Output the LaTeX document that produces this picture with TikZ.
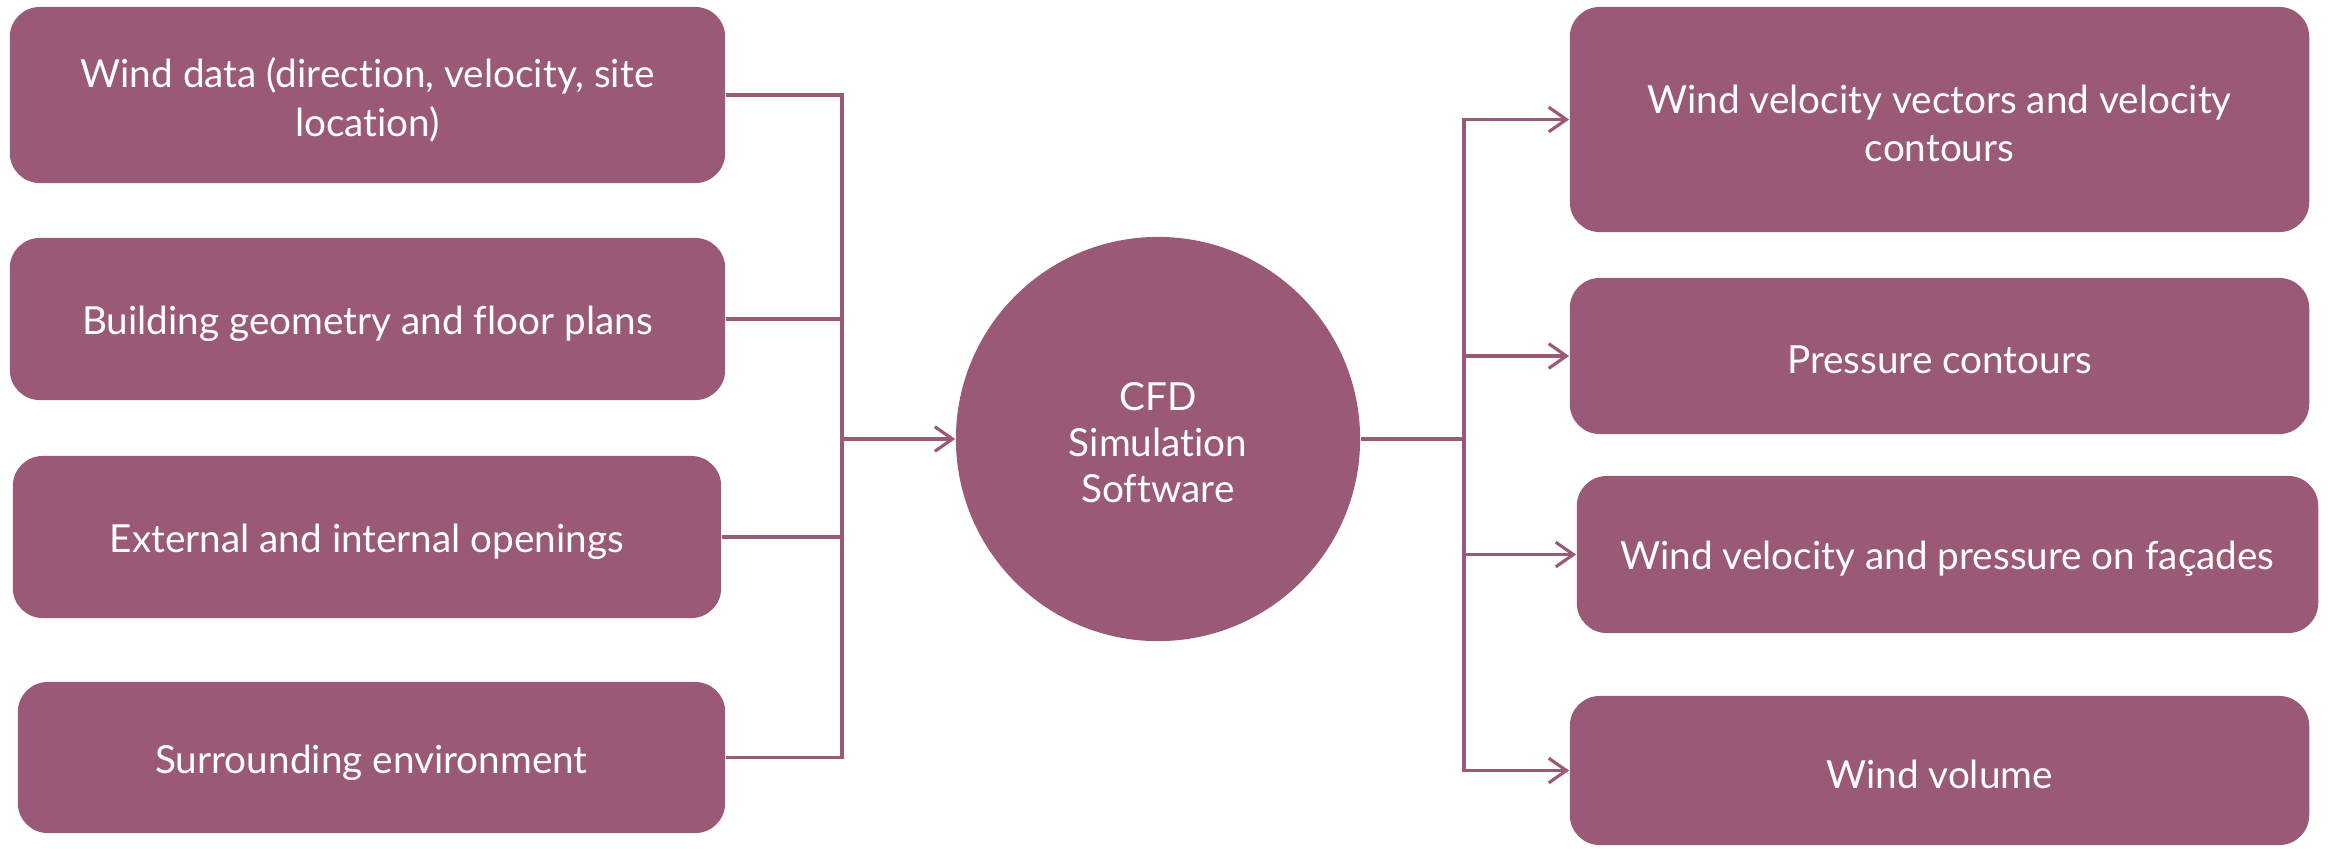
\documentclass[tikz,border=0pt]{standalone}
\usepackage{fontspec}
\setmainfont{Lato}[Ligatures=NoCommon]
\usetikzlibrary{arrows.meta}
\definecolor{plum}{RGB}{155,89,120}
\begin{document}
\begin{tikzpicture}[x=0.01cm,y=-0.01cm,
  box/.style={rectangle, rounded corners=0.3cm, fill=plum, draw=none, inner sep=0pt},
  hub/.style={circle, fill=plum, draw=none, inner sep=0pt, minimum size=4.04cm},
  txt/.style={text=white, align=center, inner sep=0pt, font=\fontsize{11}{13.8}\selectfont},
  conn/.style={draw=plum, line width=0.9pt},
  tip/.style={-{Straight Barb[length=5pt,width=7pt]}}]
\useasboundingbox (0,0) rectangle (2331,848);
% left boxes
\node[box, minimum width=7.15cm, minimum height=1.76cm] (L1) at (367.5,95) {};
\node[box, minimum width=7.15cm, minimum height=1.62cm] (L2) at (367.5,319) {};
\node[box, minimum width=7.08cm, minimum height=1.62cm] (L3) at (367,537) {};
\node[box, minimum width=7.07cm, minimum height=1.51cm] (L4) at (371.5,757.5) {};
% hub
\node[hub] (C) at (1158,439) {};
% right boxes
\node[box, minimum width=7.39cm, minimum height=2.25cm] (R1) at (1939.5,119.5) {};
\node[box, minimum width=7.39cm, minimum height=1.56cm] (R2) at (1939.5,356) {};
\node[box, minimum width=7.41cm, minimum height=1.57cm] (R3) at (1947.5,554.5) {};
\node[box, minimum width=7.39cm, minimum height=1.49cm] (R4) at (1939.5,770.5) {};
% texts
\node[txt] (tL1) at ([yshift=-1.4pt]L1.center) {Wind data (direction, velocity, site\\location)};
\node[txt] (tL2) at ([yshift=-1.4pt]L2.center) {Building geometry and floor plans};
\node[txt] (tL3) at ([yshift=-1.4pt]L3.center) {External and internal openings};
\node[txt] (tL4) at ([yshift=-1.4pt]L4.center) {Surrounding environment};
\node[txt, font=\fontsize{11}{13}\selectfont] (tC) at ([yshift=-1pt]C.center) {CFD\\Simulation\\Software};
\node[txt] (tR1) at ([yshift=-1.1pt]R1.center) {Wind velocity vectors and velocity\\contours};
\node[txt] (tR2) at ([yshift=-1.1pt]R2.center) {Pressure contours};
\node[txt] (tR3) at ([yshift=-1.1pt]R3.center) {Wind velocity and pressure on façades};
\node[txt] (tR4) at ([yshift=-1.1pt]R4.center) {Wind volume};
% junctions
\coordinate (jl) at (842,439);
\coordinate (jr) at (1464,439);
% left connectors
\draw[conn] (L1.east) -| (jl);
\draw[conn] (L2.east) -| (jl);
\draw[conn] (L3.east) -| (jl);
\draw[conn] (L4.east) -| (jl);
\draw[conn,tip] (jl) -- (C.west);
% right connectors
\draw[conn] (C.east) -- (jr);
\draw[conn,tip] (jr) |- (R1.west);
\draw[conn,tip] (jr) |- (R2.west);
\draw[conn,tip] (jr) |- (R3.west);
\draw[conn,tip] (jr) |- (R4.west);
\end{tikzpicture}
\end{document}
